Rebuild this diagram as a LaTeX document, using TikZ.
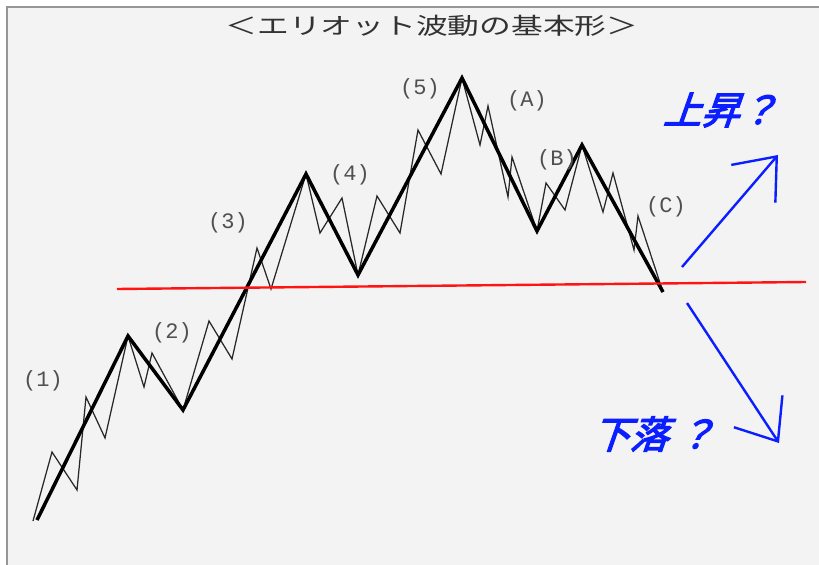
\documentclass[tikz,border=0pt]{standalone}
\usepackage{fontspec}
\usetikzlibrary{arrows.meta}

\newfontfamily\jpfont{Noto Sans CJK JP}
\newfontfamily\titlefont[FakeStretch=1.38]{Noto Sans CJK JP}
\newfontfamily\askfont[FakeSlant=0.35,FakeBold=3.5]{Noto Sans CJK JP}
\newfontfamily\lblfont{Liberation Mono}

\definecolor{bg}{RGB}{243,243,243}
\definecolor{framegray}{RGB}{150,150,150}
\definecolor{titlegray}{RGB}{50,50,50}
\definecolor{lblgray}{RGB}{80,80,80}
\definecolor{subgray}{RGB}{40,40,40}
\definecolor{trendred}{RGB}{255,20,20}
\definecolor{guessblue}{RGB}{10,30,255}

\begin{document}
\begin{tikzpicture}[x=1bp, y=-1bp,
    wave/.style={line width=3.5bp, black},
    sub/.style={line width=1.25bp, subgray},
    trend/.style={line width=2.4bp, trendred},
    guess/.style={line width=2.4bp, guessblue, -{Straight Barb[length=36bp, width=58bp]}},
    lbl/.style={text=lblgray, font=\lblfont\fontsize{22bp}{24bp}\selectfont, inner sep=0pt},
    ask/.style={text=guessblue, font=\askfont\fontsize{38bp}{42bp}\selectfont, inner sep=0pt}]
    % background and frame
    \useasboundingbox (0,0) rectangle (819,565);
    \fill[white] (0,0) rectangle (819,565);
    \fill[bg] (6,7) rectangle (819,565);
    \draw[framegray, line width=2bp] (7,565) -- (7,7) -- (819,7);

    \node (title) at (432,26) [inner sep=0pt, text=titlegray, font=\titlefont\fontsize{23bp}{26bp}\selectfont] {＜エリオット波動の基本形＞};

    % main wave
    \coordinate (m0) at (37,520);
    \coordinate (m1) at (128,336);
    \coordinate (m2) at (183,410);
    \coordinate (m3) at (306,174);
    \coordinate (m4) at (358,275);
    \coordinate (m5) at (462,78);
    \coordinate (mA) at (537,231);
    \coordinate (mB) at (582,145);
    \coordinate (mC) at (663,292);

    % sub waves
    \coordinate (s0) at (33,521);
    \coordinate (a1) at (52,452);
    \coordinate (a2) at (77,490);
    \coordinate (a3) at (86,397);
    \coordinate (a4) at (105,438);
    \coordinate (b1) at (144,387);
    \coordinate (b2) at (152,353);
    \coordinate (c1) at (209,321);
    \coordinate (c2) at (232,359);
    \coordinate (c3) at (257,248);
    \coordinate (c4) at (271,289);
    \coordinate (d1) at (320,233);
    \coordinate (d2) at (342,198);
    \coordinate (e1) at (377,196);
    \coordinate (e2) at (400,233);
    \coordinate (e3) at (418,130);
    \coordinate (e4) at (441,174);
    \coordinate (f1) at (480,145);
    \coordinate (f2) at (488,106);
    \coordinate (f3) at (508,197);
    \coordinate (f4) at (512,157);
    \coordinate (g1) at (546,183);
    \coordinate (g2) at (565,210);
    \coordinate (h1) at (603,212);
    \coordinate (h2) at (613,173);
    \coordinate (h3) at (634,250);
    \coordinate (h4) at (638,216);

    \draw[sub] (s0) -- (a1) -- (a2) -- (a3) -- (a4) -- (m1);
    \draw[sub] (m1) -- (b1) -- (b2) -- (m2);
    \draw[sub] (m2) -- (c1) -- (c2) -- (c3) -- (c4) -- (m3);
    \draw[sub] (m3) -- (d1) -- (d2) -- (m4);
    \draw[sub] (m4) -- (e1) -- (e2) -- (e3) -- (e4) -- (m5);
    \draw[sub] (m5) -- (f1) -- (f2) -- (f3) -- (f4) -- (mA);
    \draw[sub] (mA) -- (g1) -- (g2) -- (mB);
    \draw[sub] (mB) -- (h1) -- (h2) -- (h3) -- (h4) -- (mC);

    \draw[wave] (m0) -- (m1) -- (m2) -- (m3) -- (m4) -- (m5) -- (mA) -- (mB) -- (mC);

    % labels
    \node[lbl] (w1) at (43,381) {(1)};
    \node[lbl] (w2) at (172,333) {(2)};
    \node[lbl] (w3) at (228,223) {(3)};
    \node[lbl] (w4) at (350,175) {(4)};
    \node[lbl] (w5) at (420,89) {(5)};
    \node[lbl] (wA) at (527,101) {(A)};
    \node[lbl] (wB) at (557,160) {(B)};
    \node[lbl] (wC) at (666,207) {(C)};

    % red line
    \coordinate (r0) at (117,289);
    \coordinate (r1) at (806,282);
    \draw[trend] (r0) -- (r1);

    % up or down
    \coordinate (u0) at (682,267);
    \coordinate (u1) at (778,155);
    \coordinate (d0) at (687,303);
    \coordinate (d1) at (779,443);
    \draw[guess] (u0) -- (u1);
    \draw[guess] (d0) -- (d1);

    \node[ask] (up) at (720,110) {上昇？};
    \node[ask] (down) at (653,434) {下落 ？};
\end{tikzpicture}
\end{document}
